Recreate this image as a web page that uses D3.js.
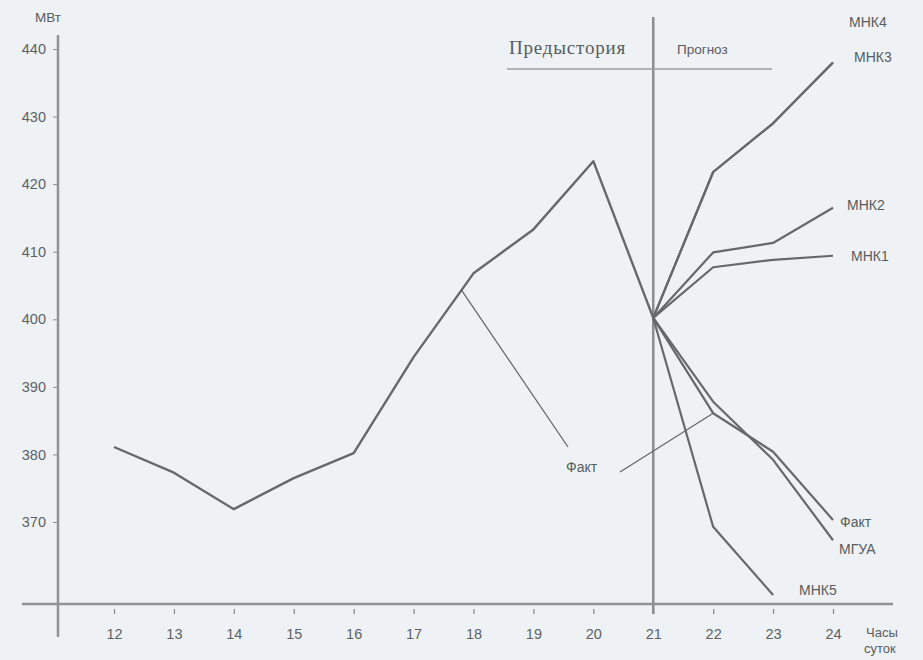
<!DOCTYPE html>
<html><head><meta charset="utf-8">
<script src="https://cdn.jsdelivr.net/npm/d3@7"></script>
<style>
html,body{margin:0;padding:0;background:#eef2f4;}
svg{display:block;}
text{font-family:Arial,"Liberation Sans",sans-serif;fill:#585c5e;}
</style></head><body>
<svg id="c" width="923" height="660"></svg>
<script>
// ---- data ----
const hoursHist = [12,13,14,15,16,17,18,19,20,21];
const factHist  = [381.1,377.3,371.9,376.5,380.2,394.4,406.8,413.3,423.4,400.2];
const hoursFc   = [21,22,23,24];
const mnk4 = [400.2,421.8,429.0,438.0];
const mnk3 = [400.2,421.8,429.0,438.0];
const mnk2 = [400.2,409.9,411.3,416.5];
const mnk1 = [400.2,407.7,408.8,409.4];
const factFc = [400.2,386.1,380.4,370.3];
const mgua   = [400.2,387.8,379.2,367.3];
const hoursMnk5 = [21,22,23];
const mnk5   = [400.2,369.3,359.2];
const xTicks = [12,13,14,15,16,17,18,19,20,21,22,23,24];
const yTicks = [370,380,390,400,410,420,430,440];

// ---- drawing ----
const svg = d3.select("#c");
const x = d3.scaleLinear().domain([12,24]).range([114,833]);
const y = d3.scaleLinear().domain([370,440]).range([522,49]);
const lineCol = "#66696b", axisCol = "#8e9396";

// axes lines
svg.append("line").attr("x1",58).attr("x2",58).attr("y1",35).attr("y2",637)
  .attr("stroke",axisCol).attr("stroke-width",2.5);
svg.append("line").attr("x1",22).attr("x2",893).attr("y1",604).attr("y2",604)
  .attr("stroke",axisCol).attr("stroke-width",2.5);

// y axis
const ya = svg.append("g").attr("transform","translate(57,0)")
  .call(d3.axisLeft(y).tickValues(yTicks).tickSize(4).tickPadding(7).tickFormat(d3.format("d")));
ya.select(".domain").remove();
ya.selectAll(".tick line").attr("stroke","#8a8e90");
ya.selectAll("text").style("font-size","14.5px").style("fill","#5d6163");

// x axis
const xa = svg.append("g").attr("transform","translate(0,609)")
  .call(d3.axisBottom(x).tickValues(xTicks).tickSize(5).tickPadding(15).tickFormat(d3.format("d")));
xa.select(".domain").remove();
xa.selectAll(".tick line").attr("stroke","#8a8e90").attr("stroke-width",1.3);
xa.selectAll("text").style("font-size","14.5px").style("fill","#5d6163");

// divider + header
svg.append("line").attr("x1",x(21)).attr("x2",x(21)).attr("y1",17).attr("y2",614)
  .attr("stroke","#8a8e90").attr("stroke-width",2.5);
svg.append("line").attr("x1",507).attr("x2",772).attr("y1",69).attr("y2",69)
  .attr("stroke","#9a9ea0").attr("stroke-width",1.5);
svg.append("text").attr("x",509).attr("y",54)
  .style("font-family","'Liberation Serif','Times New Roman',serif").style("font-size","19px")
  .style("letter-spacing","0.8px").text("Предыстория");
svg.append("text").attr("x",677).attr("y",54).style("font-size","13.5px").text("Прогноз");

// axis titles
svg.append("text").attr("x",35).attr("y",22).style("font-size","13.5px").text("МВт");
svg.append("text").attr("x",866).attr("y",637).style("font-size","13px").text("Часы");
svg.append("text").attr("x",864).attr("y",653).style("font-size","13px").text("суток");

// series
const line = d3.line().x(d=>x(d[0])).y(d=>y(d[1]));
function draw(xs, vs, w){
  svg.append("path").datum(xs.map((h,i)=>[h,vs[i]])).attr("d",line)
    .attr("fill","none").attr("stroke",lineCol).attr("stroke-width",w||2.2).attr("stroke-linejoin","round");
}
draw(hoursHist, factHist, 2.4);
draw(hoursFc, mnk3);
draw(hoursFc, mnk4);
draw(hoursFc, mnk2);
draw(hoursFc, mnk1);
draw(hoursFc, factFc);
draw(hoursFc, mgua);
draw(hoursMnk5, mnk5);

// leader lines for "Факт"
const h1 = 17.8, v1 = factHist[5] + (factHist[6]-factHist[5])*(h1-17);
svg.append("line").attr("x1",x(h1)).attr("y1",y(v1)).attr("x2",568).attr("y2",447)
  .attr("stroke",lineCol).attr("stroke-width",1.3);
svg.append("line").attr("x1",620).attr("y1",472).attr("x2",x(22)).attr("y2",y(factFc[1]))
  .attr("stroke",lineCol).attr("stroke-width",1.3);
svg.append("text").attr("x",566).attr("y",472).style("font-size","14px").text("Факт");

// series labels
const labels = [["МНК4",849,27],["МНК3",854,62],["МНК2",847,210],["МНК1",851,261],
  ["Факт",840,527],["МГУА",839,554],["МНК5",799,595]];
labels.forEach(l=>svg.append("text").attr("x",l[1]).attr("y",l[2]).style("font-size","14px").text(l[0]));
</script>
</body></html>
